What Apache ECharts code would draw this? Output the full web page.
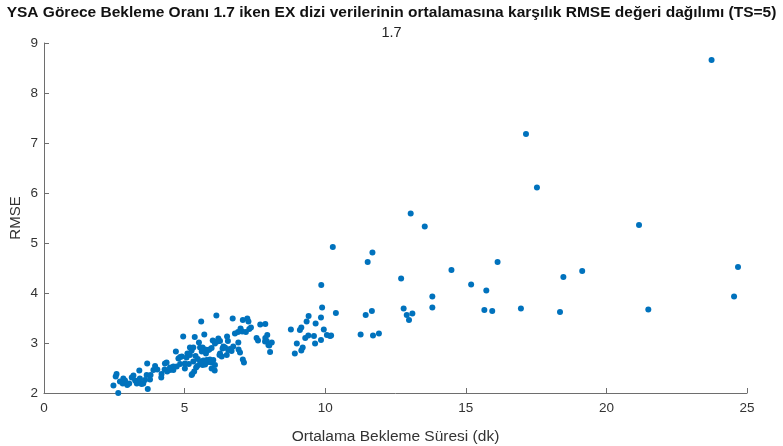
<!DOCTYPE html>
<html>
<head>
<meta charset="utf-8">
<script src="https://cdn.jsdelivr.net/npm/echarts@6/dist/echarts.min.js"></script>
<style>
  html, body { margin: 0; padding: 0; background: #fff; }
  #chart { width: 783px; height: 446px; }
</style>
</head>
<body>
<div id="chart"></div>
<script>
// Mean waiting time (min) per EX sequence and the corresponding RMSE
const waitTimes = [
  2.64, 2.47, 2.55, 2.58, 2.70, 2.80, 2.88, 2.82, 2.96, 3.03, 3.12, 3.18, 3.24, 3.30, 3.35, 3.41, 3.39, 3.47, 3.53, 3.59,
  3.65, 3.67, 3.69, 3.77, 3.79, 3.89, 3.95,
  4.03, 4.18, 4.30, 4.38, 4.48, 4.60, 4.69, 4.78, 4.90, 4.95, 5.01, 5.10, 4.17, 4.36, 4.29, 4.60, 4.48, 4.72, 4.84, 5.01,
  5.15, 5.31, 5.41, 5.61, 5.64, 4.84, 5.07, 5.19, 5.25, 5.31, 5.39, 5.47,
  5.36, 5.70, 5.59, 6.13, 5.51, 5.64, 5.73, 5.79, 5.88, 5.96,
  6.20, 6.26, 6.51, 6.54, 6.79, 6.90, 6.99, 7.05, 7.18, 7.30, 7.36, 7.56, 7.61, 7.87, 7.92, 8.01,
  6.08, 6.16, 6.38, 6.61, 6.67, 6.73, 6.91, 6.92, 6.97, 7.07, 7.11,
  5.79, 5.86, 5.90, 6.02, 5.73, 6.07, 5.27, 5.34,
  6.71, 7.07, 7.23, 7.27, 7.69, 7.87,
  6.00, 5.55, 5.84, 5.76, 5.61, 5.19, 6.35, 6.44, 6.55, 6.24, 6.32, 6.26, 6.50, 5.96, 6.08, 5.96, 5.67, 5.55, 5.45, 5.25,
  7.94, 7.86, 8.10, 7.98, 8.04,
  9.86, 9.89, 9.41, 9.85, 9.66, 9.34, 9.15, 9.10, 8.78, 9.95, 9.40, 9.60, 9.29, 9.85, 10.06, 10.17, 9.64, 8.99, 9.20, 9.15, 8.92,
  10.27, 11.68, 11.51, 12.70, 14.49, 16.13, 15.19, 15.73, 13.81, 13.81, 10.38, 11.44, 11.66, 12.79, 12.90, 13.10, 12.98,
  15.66, 15.94, 16.96, 10.21, 11.26, 11.70, 11.91, 13.04, 13.54,
  17.14, 23.74, 17.53, 21.16, 18.47, 19.14, 24.68, 24.54, 18.35, 21.49
];
const rmseValues = [
  2.00, 2.15, 2.33, 2.38, 2.23, 2.19, 2.25, 2.29, 2.16, 2.19, 2.31, 2.35, 2.25, 2.19, 2.23, 2.29, 2.45, 2.18, 2.19, 2.26,
  2.36, 2.59, 2.08, 2.27, 2.36, 2.46, 2.54,
  2.47, 2.38, 2.59, 2.43, 2.46, 2.53, 2.83, 2.69, 2.73, 3.13, 2.59, 2.79, 2.31, 2.61, 2.47, 2.46, 2.51, 2.53, 2.58, 2.49,
  2.58, 2.63, 2.51, 2.63, 2.56, 2.72, 2.71, 2.76, 2.85, 2.91, 2.74, 2.68,
  3.12, 3.17, 3.43, 3.55, 3.01, 2.91, 2.87, 2.86, 2.87, 2.90,
  3.09, 3.04, 3.13, 3.04, 3.19, 3.22, 3.29, 3.23, 3.22, 3.28, 3.31, 3.10, 3.05, 3.10, 3.04, 2.95,
  2.99, 3.03, 2.93, 2.88, 2.84, 2.93, 3.01, 2.87, 2.81, 2.67, 2.61,
  2.66, 2.62, 2.67, 2.66, 2.57, 2.45, 2.38, 2.43,
  3.49, 3.46, 3.49, 3.43, 3.37, 3.38,
  3.05, 2.91, 2.86, 2.79, 2.83, 2.91, 2.89, 2.91, 2.86, 2.76, 2.73, 2.79, 2.76, 2.61, 2.56, 2.49, 2.65, 2.59, 2.54, 2.36,
  3.16, 3.03, 3.01, 2.96, 2.82,
  4.16, 3.71, 3.54, 3.51, 3.39, 3.43, 3.31, 3.26, 3.27, 3.27, 3.15, 3.14, 3.10, 3.06, 3.16, 3.14, 2.99, 2.99, 2.91, 2.85, 2.79,
  4.92, 4.81, 4.62, 4.29, 4.46, 4.62, 4.17, 4.05, 3.93, 3.71, 3.60, 3.56, 3.64, 3.69, 3.56, 3.59, 3.46,
  3.66, 3.64, 3.69, 3.15, 3.17, 3.15, 3.19, 5.59, 5.33,
  7.18, 8.66, 6.11, 5.36, 4.32, 4.44, 4.52, 3.93, 3.62, 3.67
];

const titleText = 'YSA Görece Bekleme Oranı 1.7 iken EX dizi verilerinin ortalamasına karşılık RMSE değeri dağılımı (TS=5)';
const subtitleText = '1.7';
const xAxisName = 'Ortalama Bekleme Süresi (dk)';
const yAxisName = 'RMSE';

const points = waitTimes.map((x, i) => [x, rmseValues[i]]);

const axisColor = '#6e6e6e';
const labelColor = '#333333';
const font = 'Liberation Sans, Arial, Helvetica, sans-serif';

const chart = echarts.init(document.getElementById('chart'), null, { renderer: 'canvas' });
chart.setOption({
  backgroundColor: '#ffffff',
  animation: false,
  title: [
    {
      text: titleText,
      left: 'center',
      top: 0,
      textStyle: { fontFamily: font, fontSize: 15.5, fontWeight: 'bold', color: '#111111' }
    },
    {
      text: subtitleText,
      left: 'center',
      top: 20,
      textStyle: { fontFamily: font, fontSize: 14.5, fontWeight: 'normal', color: '#222222' }
    }
  ],
  grid: { left: 44, right: 36, top: 43, bottom: 53, containLabel: false, outerBoundsMode: 'none' },
  xAxis: {
    type: 'value',
    min: 0,
    max: 25,
    interval: 5,
    name: xAxisName,
    nameLocation: 'middle',
    nameGap: 36,
    nameMoveOverlap: false,
    nameTextStyle: { fontFamily: font, fontSize: 15.5, color: labelColor },
    axisLine: { show: true, lineStyle: { color: axisColor, width: 1 } },
    axisTick: { show: true, inside: true, length: 5, lineStyle: { color: axisColor } },
    axisLabel: { fontFamily: font, fontSize: 13.5, color: labelColor, margin: 8 },
    splitLine: { show: false }
  },
  yAxis: {
    type: 'value',
    min: 2,
    max: 9,
    interval: 1,
    name: yAxisName,
    nameLocation: 'middle',
    nameGap: 21,
    nameMoveOverlap: false,
    nameRotate: 90,
    nameTextStyle: { fontFamily: font, fontSize: 15, color: labelColor },
    axisLine: { show: true, lineStyle: { color: axisColor, width: 1 } },
    axisTick: { show: true, inside: true, length: 5, lineStyle: { color: axisColor } },
    axisLabel: { fontFamily: font, fontSize: 13.5, color: labelColor, margin: 6 },
    splitLine: { show: false }
  },
  series: [
    {
      type: 'scatter',
      data: points,
      symbol: 'circle',
      symbolSize: 6,
      itemStyle: { color: '#0072BD', opacity: 1 }
    }
  ]
});
</script>
</body>
</html>
